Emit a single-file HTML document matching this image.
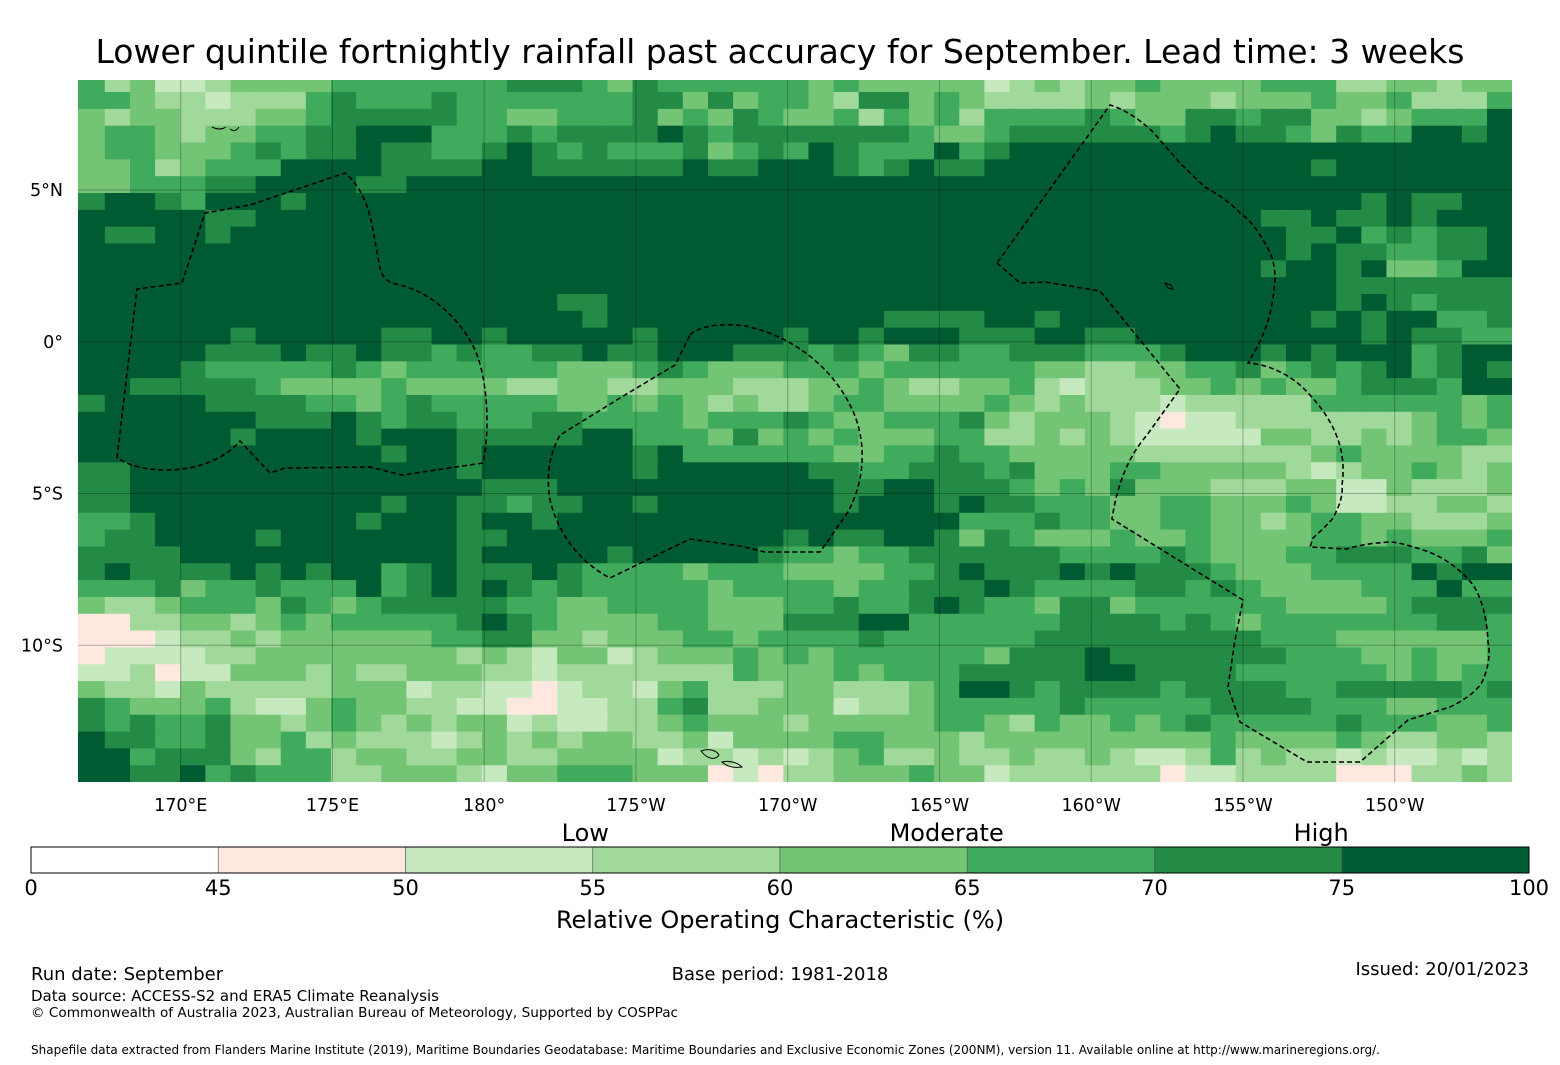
<!DOCTYPE html>
<html><head><meta charset="utf-8">
<style>
html,body{margin:0;padding:0;background:#fff;}
svg{display:block;font-family:"DejaVu Sans","Liberation Sans",sans-serif;}
</style></head>
<body>
<svg id="chart" width="1560" height="1065" viewBox="0 0 1560 1065" xmlns="http://www.w3.org/2000/svg">
  <text x="780" y="63" text-anchor="middle" font-size="33" fill="#000">Lower quintile fortnightly rainfall past accuracy for September. Lead time: 3 weeks</text>
  <defs><clipPath id="mapclip"><rect x="78" y="80" width="1434" height="702"/></clipPath></defs>
  <g id="heatmap" clip-path="url(#mapclip)"></g>
  <g id="gridlines" clip-path="url(#mapclip)"></g>
  <g id="boundaries" clip-path="url(#mapclip)" fill="none" stroke="#000" stroke-width="1.6" stroke-dasharray="5,3">
    <path d="M117,458 L137,289 L182,283 L205,213 L250,205 L345,173 C360,185 368,205 372,225 L380,268 C383,280 390,283 400,285 C430,292 460,318 475,350 C488,380 490,430 483,463 L402,475 L370,467 L285,468 L270,473 L240,441 C225,458 200,470 165,470 C145,470 128,465 117,458 Z"/>
    <path d="M690,335 C700,325 725,323 745,326 C790,335 830,365 850,405 C868,440 865,480 848,512 L820,552 L765,552 L740,546 L690,539 L610,578 C585,565 560,540 550,500 C545,470 552,450 560,435 L620,398 L675,365 Z"/>
    <path d="M997,263 L1020,283 L1045,282 L1100,291 L1180,389 L1147,435 C1130,455 1118,480 1112,519 L1243,600 L1235,640 L1228,687 L1240,722 L1307,762 L1360,762 L1408,720 L1450,707 C1465,700 1478,690 1482,682 C1490,665 1490,650 1488,642 C1487,615 1480,595 1473,585 C1460,568 1440,555 1423,550 C1405,544 1395,542 1390,542 C1370,543 1355,546 1347,549 L1310,547 L1313,538 C1322,530 1330,522 1333,518 C1340,505 1343,495 1342,485 C1347,450 1335,418 1300,385 C1285,372 1265,364 1248,363 C1262,340 1272,320 1275,280 C1275,265 1272,255 1267,247 C1258,230 1250,220 1240,213 C1228,200 1215,193 1205,187 C1195,178 1185,168 1180,163 L1153,132 C1135,115 1120,108 1110,105 Z"/>
  </g>
  <g id="islands" fill="none" stroke="#000" stroke-width="1">
    <path d="M701,751 C708,748 716,750 719,755 C716,760 708,760 701,751 Z"/>
    <path d="M722,762 C730,760 738,763 742,767 C735,768 727,767 722,762 Z"/>
    <path d="M1165,283 l6,2 l2,4 l-5,-1 Z"/>
    <path d="M212,127 q8,4 14,0 M230,129 q5,4 9,-2"/>
  </g>
  <g id="xticks" font-size="17.5" fill="#000" text-anchor="middle"></g>
  <g id="yticks" font-size="17.5" fill="#000" text-anchor="end"></g>
  <g id="colorbar"></g>
  <text x="780" y="928" text-anchor="middle" font-size="24" fill="#000">Relative Operating Characteristic (%)</text>
  <text x="31" y="980" font-size="18" fill="#000">Run date: September</text>
  <text x="780" y="980" text-anchor="middle" font-size="18" fill="#000">Base period: 1981-2018</text>
  <text x="1529" y="975" text-anchor="end" font-size="18" fill="#000">Issued: 20/01/2023</text>
  <text x="31" y="1001" font-size="15" fill="#000">Data source: ACCESS-S2 and ERA5 Climate Reanalysis</text>
  <text x="31" y="1017" font-size="13.6" fill="#000">© Commonwealth of Australia 2023, Australian Bureau of Meteorology, Supported by COSPPac</text>
  <text x="31" y="1054" font-size="12" fill="#000">Shapefile data extracted from Flanders Marine Institute (2019), Maritime Boundaries Geodatabase: Maritime Boundaries and Exclusive Economic Zones (200NM), version 11. Available online at http://www.marineregions.org/.</text>
</svg>
<script>
// ---- data ----
const levelColors = ["#ffffff","#fee8df","#c7e9c0","#a1d99b","#74c476","#41ab5d","#238b45","#005a32"];
const bandEdges = [0,45,50,55,60,65,70,75,100];
const bandTickLabels = ["0","45","50","55","60","65","70","75","100"];
const categoryLabels = ["Low","Moderate","High"];
const categoryBandCenter = [2.96,4.89,6.89];
const lonTicks = [170,175,180,-175,-170,-165,-160,-155,-150];
const lonTickLabels = ["170°E","175°E","180°","175°W","170°W","165°W","160°W","155°W","150°W"];
const latTicks = [5,0,-5,-10];
const latTickLabels = ["5°N","0°","5°S","10°S"];
// ROC category level per grid cell (row = north to south, char = west to east)
const rocRows = [
"5342234444555555566"+"6546555555454444423"+"4344544445553344344",
"5543323335655565555"+"5556646455436645433"+"3343444344454453335",
"4344333445666665544"+"5556454654453545355"+"5565446656644345557",
"4554344556677755565"+"6666765666666654456"+"6666656766546557767",
"4554445656676655676"+"5655564565765557567"+"7777777777777777777",
"4453455577776666776"+"6666676677765676677"+"7777777777767777777",
"4455566777766777777"+"7777777777777777777"+"7777777777777777777",
"6776577767777777777"+"7777777777777777777"+"7777777777777676677",
"7777766777777777777"+"7777777777777777777"+"7777777776676676777",
"7667767777777777777"+"7777777777777777777"+"7777777777667565667",
"7777777777777777777"+"7777777777777777777"+"7777777777676655667",
"7777777777777777777"+"7777777777777777777"+"7777777776776744577",
"7777777777777777777"+"7777777777777777777"+"7777777777776666666",
"7777777777777777777"+"6677777777777777777"+"7777777777776765666",
"7777777777777777777"+"7677777777777666677"+"6777777777767677556",
"7777776777776677677"+"7776777776776777666"+"7766777777777676655",
"7777766676676656556"+"6766777666565466556"+"6655567776767775677",
"7777655555654555555"+"4445654445554555555"+"4433445564565675676",
"7766666544445444433"+"4433444333445433445"+"3233344545445666577",
"6777766665545655555"+"4454543433455444454"+"3433323333355555545",
"7777777666765665556"+"6555545556544555643"+"4443212233333334545",
"7777776777767776666"+"6775554645454445533"+"4343222224433434554",
"7777777777776776777"+"7776755555544556554"+"4444333333345444433",
"6677777777777776777"+"7776777777665566656"+"4445544444323445434",
"6677777777777777666"+"7777777777766776665"+"4546444333442243334",
"6677777777776776656"+"6776777777767776766"+"5554455444542233443",
"5567777777767776776"+"7777777777777777555"+"6554455443455443334",
"5667777677777776677"+"7777777776766776465"+"4445445444455454445",
"6666777777777776777"+"7767777765545566666"+"6555565444556665564",
"6766667676775676667"+"6555545554444556766"+"6767666544455557677",
"5556455655575676765"+"6555554555545566676"+"5555665654444555755",
"4334555465456666655"+"4455554445565567655"+"4664555555444456666",
"1133443454555556765"+"4444554446667755555"+"5666656545555555665",
"1112334344444455664"+"4344455455556555555"+"6666666665554444445",
"1222233444444443432"+"4423444545455555546"+"6676666666555445445",
"2231224443433444332"+"3333333544454555666"+"6677666655555545455",
"4332433333444233221"+"2332453334433345776"+"5666656666556666656",
"6544453224544332211"+"2233563344423345555"+"5655555666655544555",
"6565564434543434423"+"2233454443444445543"+"5445456555556555445",
"7665564453433323434"+"3443342444455444344"+"4444444544445433443",
"7756664355344334433"+"4444233232345334334"+"3343223534332322323",
"7766756555334443244"+"5554441213344454423"+"3333312233331113343"
];
</script>
<script>
const NS = "http://www.w3.org/2000/svg";
const mapX0 = 78, mapX1 = 1512, mapY0 = 80, mapY1 = 782;
const pxPerDeg = 30.35;
const lon180X = 484.2;
const lat0Y = 341.8;
function lonToX(lon){ const e = lon < 0 ? 360 + lon : lon; return lon180X + (e - 180) * pxPerDeg; }
function latToY(lat){ return lat0Y - lat * pxPerDeg; }
const cellW = 25.13, cellH = 16.83, gridX0 = 79.7, gridY0 = 75.2;
function colX(c){ return gridX0 + c * cellW; }
function rowY(r){ return gridY0 + r * cellH; }

const hm = document.getElementById('heatmap');
rocRows.forEach((row, r) => {
  for (let c = 0; c < row.length; c++) {
    const lv = +row[c];
    const rect = document.createElementNS(NS, 'rect');
    let x = colX(c), w = cellW + 0.6;
    if (c === 0) { x -= 2.5; w += 2.5; }
    rect.setAttribute('x', x.toFixed(2));
    rect.setAttribute('y', rowY(r).toFixed(2));
    rect.setAttribute('width', w.toFixed(2));
    rect.setAttribute('height', (cellH + 0.6).toFixed(2));
    rect.setAttribute('fill', levelColors[lv]);
    
    
    hm.appendChild(rect);
  }
});

const gl = document.getElementById('gridlines');
const xt = document.getElementById('xticks');
lonTicks.forEach((lon, i) => {
  const x = lonToX(lon);
  const ln = document.createElementNS(NS, 'line');
  ln.setAttribute('x1', x); ln.setAttribute('x2', x);
  ln.setAttribute('y1', mapY0); ln.setAttribute('y2', mapY1);
  ln.setAttribute('stroke', 'rgba(0,0,0,0.28)'); ln.setAttribute('stroke-width', '1');
  
  
  gl.appendChild(ln);
  const t = document.createElementNS(NS, 'text');
  t.setAttribute('x', x); t.setAttribute('y', 811);
  t.textContent = lonTickLabels[i];
  
  
  xt.appendChild(t);
});
const yt = document.getElementById('yticks');
latTicks.forEach((lat, i) => {
  const y = latToY(lat);
  const ln = document.createElementNS(NS, 'line');
  ln.setAttribute('x1', mapX0); ln.setAttribute('x2', mapX1);
  ln.setAttribute('y1', y); ln.setAttribute('y2', y);
  ln.setAttribute('stroke', 'rgba(0,0,0,0.28)'); ln.setAttribute('stroke-width', '1');
  
  
  gl.appendChild(ln);
  const t = document.createElementNS(NS, 'text');
  t.setAttribute('x', 63); t.setAttribute('y', y + 6);
  t.textContent = latTickLabels[i];
  
  
  yt.appendChild(t);
});

const cb = document.getElementById('colorbar');
const cbX0 = 31, cbX1 = 1529, cbY = 847, cbH = 26;
const nBands = bandEdges.length - 1;
const bandW = (cbX1 - cbX0) / nBands;
function bandX(i){ return cbX0 + i * bandW; }
for (let i = 0; i < nBands; i++) {
  const r = document.createElementNS(NS, 'rect');
  r.setAttribute('x', bandX(i)); r.setAttribute('y', cbY);
  r.setAttribute('width', bandW); r.setAttribute('height', cbH);
  r.setAttribute('fill', levelColors[i]);
  r.setAttribute('stroke', '#555'); r.setAttribute('stroke-width', '0.6');
  
  
  cb.appendChild(r);
}
const frame = document.createElementNS(NS, 'rect');
frame.setAttribute('x', cbX0); frame.setAttribute('y', cbY);
frame.setAttribute('width', cbX1 - cbX0); frame.setAttribute('height', cbH);
frame.setAttribute('fill', 'none'); frame.setAttribute('stroke', '#000'); frame.setAttribute('stroke-width', '1');


cb.appendChild(frame);
bandTickLabels.forEach((lab, i) => {
  const t = document.createElementNS(NS, 'text');
  t.setAttribute('x', bandX(i)); t.setAttribute('y', 895);
  t.setAttribute('text-anchor', 'middle'); t.setAttribute('font-size', '21');
  t.textContent = lab;
  
  
  cb.appendChild(t);
});
categoryLabels.forEach((lab, i) => {
  const t = document.createElementNS(NS, 'text');
  t.setAttribute('x', bandX(categoryBandCenter[i])); t.setAttribute('y', 841);
  t.setAttribute('text-anchor', 'middle'); t.setAttribute('font-size', '24');
  t.textContent = lab;
  
  
  cb.appendChild(t);
});
</script>
</body></html>
